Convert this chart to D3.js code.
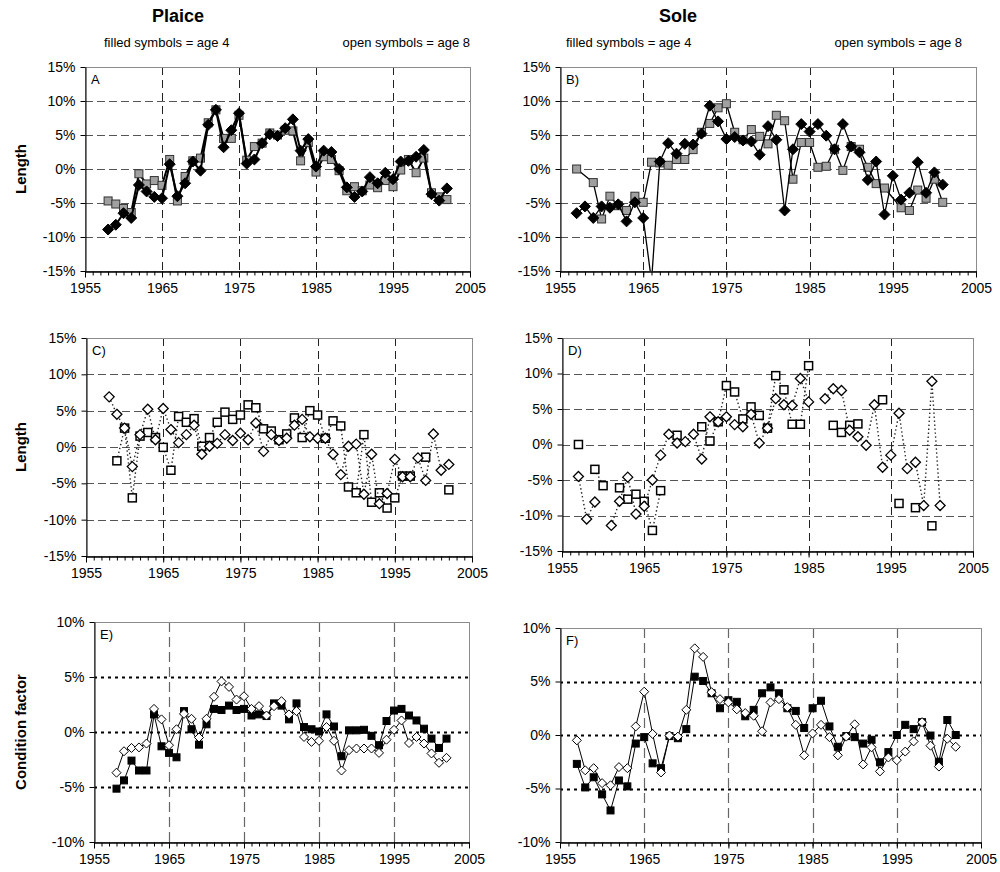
<!DOCTYPE html>
<html>
<head>
<meta charset="utf-8">
<script src="https://cdn.jsdelivr.net/npm/d3@7"></script>
<style>
  body { margin: 0; background: #fff; }
  svg { display: block; font-family: "Liberation Sans", Arial, sans-serif; }
</style>
</head>
<body>
<svg id="chart" width="1000" height="872"></svg>
<script>
// ---- Years (categories) ----
const plaiceYears = [1958,1959,1960,1961,1962,1963,1964,1965,1966,1967,1968,1969,1970,1971,1972,1973,1974,1975,1976,1977,1978,1979,1980,1981,1982,1983,1984,1985,1986,1987,1988,1989,1990,1991,1992,1993,1994,1995,1996,1997,1998,1999,2000,2001,2002];
const soleYears = [1957,1958,1959,1960,1961,1962,1963,1964,1965,1966,1967,1968,1969,1970,1971,1972,1973,1974,1975,1976,1977,1978,1979,1980,1981,1982,1983,1984,1985,1986,1987,1988,1989,1990,1991,1992,1993,1994,1995,1996,1997,1998,1999,2000,2001];
const soleCondYears = [1957,1958,1959,1960,1961,1962,1963,1964,1965,1966,1967,1968,1969,1970,1971,1972,1973,1974,1975,1976,1977,1978,1979,1980,1981,1982,1983,1984,1985,1986,1987,1988,1989,1990,1991,1992,1993,1994,1995,1996,1997,1998,1999,2000,2001,2002];

// ---- Axis ticks ----
const lengthTicks = [-15,-10,-5,0,5,10,15];
const conditionTicks = [-10,-5,0,5,10];
const yearLabels = [1955,1965,1975,1985,1995,2005];
const decadeLines = [1965,1975,1985,1995];

// ---- A: plaice length (% deviation) ----
const plaiceLenAge4 = [-8.9,-8.2,-6.5,-7.2,-2.35,-3.3,-4.1,-4.3,0.7,-4.0,-2.1,1.1,-0.25,6.5,8.7,3.2,5.7,8.2,0.8,1.4,3.8,5.1,4.85,6.0,7.3,2.7,4.4,0.35,2.7,2.5,0.0,-2.7,-4.1,-3.3,-1.2,-2.1,-0.55,-1.5,1.1,1.2,1.8,2.8,-3.7,-4.65,-2.85];
const plaiceLenAge8 = [-4.7,-5.15,-5.8,-6.4,-0.7,-2.2,-1.7,-2.4,1.4,-4.7,-1.1,1.2,1.6,6.8,8.7,4.5,4.5,7.9,1.3,3.3,3.8,5.3,5.0,5.7,5.6,1.2,3.9,-0.45,1.8,1.4,-0.25,-3.2,-2.6,-3.2,-2.35,-2.75,-1.7,-2.6,-0.15,1.4,-0.55,1.6,-3.5,-4.1,-4.5];

// ---- B: sole length ----
const soleLenAge4 = [-6.5,-5.5,-7.2,-5.5,-5.7,-5.2,-7.7,-4.9,-7.2,-16.5,1.1,3.8,2.25,3.7,3.6,5.2,9.3,7.0,4.4,4.7,4.2,4.05,2.1,6.3,4.3,-6.1,2.9,6.6,5.5,6.6,4.9,2.9,6.6,3.3,2.45,-1.6,1.1,-6.7,-1.0,-4.5,-3.5,1.0,-3.5,-0.5,-2.3];
const soleLenAge8 = [0.0,null,-2.0,-7.35,-4.0,-5.4,-6.1,-4.0,-4.9,1.0,0.9,0.55,1.4,1.4,2.85,5.4,6.7,9.0,9.6,5.4,4.3,5.8,4.8,3.7,7.9,7.1,-1.5,3.9,3.9,0.25,0.4,2.9,-0.2,3.3,2.9,0.25,-2.15,-2.8,null,-5.7,-6.1,-3.1,-4.3,-1.5,-4.9];

// ---- C: plaice length, second set ----
const plaiceLen2Age4 = [6.9,4.5,2.6,-2.7,1.7,5.2,1.0,5.3,2.4,0.6,1.7,3.0,-1.0,0.1,0.5,1.7,0.9,1.9,1.0,3.3,-0.6,1.7,0.9,1.2,3.0,3.8,1.4,1.2,1.2,-1.0,-3.8,0.1,0.4,-6.5,-1.0,-7.8,-6.4,-1.7,-4.1,-4.1,-1.5,-4.6,1.8,-3.2,-2.4];
const plaiceLen2Age8 = [null,-1.9,2.6,-7.0,1.5,2.0,1.3,-0.05,-3.2,4.2,3.4,3.9,0.1,1.3,3.4,4.8,3.8,4.4,5.8,5.4,2.5,2.2,1.0,1.8,4.0,1.3,5.0,4.4,1.2,3.6,2.9,-5.5,-6.3,1.7,-7.6,-6.3,-8.4,-7.0,-4.0,-4.0,null,-1.4,null,null,-5.9];

// ---- D: sole length, second set ----
const soleLen2Age4 = [-4.5,-10.5,-8.1,null,-11.4,-8.0,-4.6,-9.8,-8.7,-5.0,-1.5,1.45,0.2,0.4,1.45,-2.05,3.9,3.2,3.9,2.8,2.5,4.25,0.2,2.3,6.45,5.6,5.5,9.3,6.0,null,6.45,7.85,7.6,2.0,1.1,-0.1,5.6,-3.2,-1.5,4.4,-3.4,-2.5,-8.6,8.9,-8.6];
const soleLen2Age8 = [0.0,null,-3.5,-5.8,null,-6.1,-7.7,-7.0,-8.0,-12.1,-6.5,null,1.3,null,null,2.5,0.5,3.2,8.3,7.4,3.6,5.3,4.1,2.3,9.7,7.7,2.85,2.85,11.1,null,null,2.7,1.7,2.7,2.9,null,null,6.3,null,-8.3,null,-8.9,null,-11.45,null];

// ---- E: plaice condition factor ----
const plaiceCondAge4 = [-5.15,-4.4,-2.6,-3.5,-3.5,1.6,-1.3,-1.9,-2.3,1.9,0.25,-1.15,0.7,2.1,2.0,2.4,2.0,2.1,1.5,1.6,1.45,2.6,2.4,1.15,2.6,0.45,0.25,0.05,1.6,0.5,-2.2,0.15,0.15,0.2,-0.35,-1.2,1.0,1.95,2.1,1.5,1.05,0.3,-0.6,-1.45,-0.6];
const plaiceCondAge8 = [-3.7,-1.75,-1.45,-1.4,-1.05,2.1,1.15,-1.2,0.25,1.65,1.2,-0.5,1.2,3.2,4.6,4.1,2.95,3.25,2.1,2.35,1.5,2.35,2.8,1.6,1.9,-0.45,-0.9,-0.8,0.45,-0.8,-3.5,-1.65,-1.5,-1.5,-1.5,-1.9,-0.7,0.2,1.05,-1.0,-0.45,-1.05,-1.95,-2.8,-2.35];

// ---- F: sole condition factor ----
const soleCondAge4 = [-2.7,-4.9,-3.95,-5.55,-7.05,-4.25,-4.8,-0.8,-0.2,-2.65,-3.1,-0.1,-0.3,0.55,5.45,5.05,3.9,2.5,3.25,3.1,1.75,2.35,3.9,4.45,3.9,2.5,2.25,0.65,2.5,3.2,0.8,-1.1,-0.1,-0.2,-0.8,-0.45,-2.55,-1.6,0.0,0.95,0.55,1.2,-0.05,-2.5,1.4,0.0];
const soleCondAge8 = [-0.5,-3.3,-3.1,-4.5,-4.7,-3.0,-3.1,0.8,4.05,0.1,-3.5,-0.05,-0.15,2.35,8.1,7.3,4.0,3.35,3.05,2.4,2.05,1.8,0.35,3.05,3.35,2.6,0.95,-1.9,0.15,0.95,-0.2,-1.9,-0.15,1.0,-2.75,-1.15,-3.4,-2.1,-2.35,-1.55,-0.6,1.2,-1.0,-2.95,-0.35,-1.1];

const svg = d3.select("#chart");
let clipCount = 0;

const diamondPath = r => `M0,${-r}L${r},0L0,${r}L${-r},0Z`;

function drawSeries(g, x, y, years, values, st) {
  const pts = years.map((yr, i) => ({ yr, v: values[i] })).filter(d => st.gaps || d.v !== null);
  const line = d3.line().defined(d => d.v !== null).x(d => x(d.yr)).y(d => y(d.v));
  g.append("path")
    .attr("d", line(pts))
    .attr("fill", "none")
    .attr("stroke", st.lineColor)
    .attr("stroke-width", st.lineWidth)
    .attr("stroke-dasharray", st.dash || null)
    .attr("stroke-linejoin", "round");
  const shown = pts.filter(d => d.v !== null);
  if (st.marker === "square") {
    g.selectAll(null).data(shown).join("rect")
      .attr("x", d => x(d.yr) - st.size / 2)
      .attr("y", d => y(d.v) - st.size / 2)
      .attr("width", st.size).attr("height", st.size)
      .attr("fill", st.fill).attr("stroke", st.stroke).attr("stroke-width", st.strokeWidth);
  } else {
    g.selectAll(null).data(shown).join("path")
      .attr("transform", d => `translate(${x(d.yr)},${y(d.v)})`)
      .attr("d", diamondPath(st.size / 2))
      .attr("fill", st.fill).attr("stroke", st.stroke).attr("stroke-width", st.strokeWidth);
  }
}

function drawPanel(p) {
  const x = d3.scaleLinear().domain([1955, 2005]).range([p.left, p.right]);
  const y = d3.scaleLinear().domain([p.ticks[0], p.ticks[p.ticks.length - 1]]).range([p.bottom, p.top]);
  const g = svg.append("g");
  const id = "plotclip" + (clipCount++);
  g.append("clipPath").attr("id", id).append("rect")
    .attr("x", p.left).attr("y", p.top)
    .attr("width", p.right - p.left).attr("height", p.bottom - p.top);

  // horizontal grid
  g.selectAll(null).data(p.ticks.slice(1, -1)).join("line")
    .attr("x1", p.left).attr("x2", p.right)
    .attr("y1", d => Math.round(y(d)) + 0.5).attr("y2", d => Math.round(y(d)) + 0.5)
    .attr("stroke", p.hGrid.color).attr("stroke-width", p.hGrid.width)
    .attr("stroke-dasharray", p.hGrid.dash);

  // vertical grid
  g.selectAll(null).data(decadeLines).join("line")
    .attr("x1", d => Math.round(x(d)) + 0.5).attr("x2", d => Math.round(x(d)) + 0.5)
    .attr("y1", p.top).attr("y2", p.bottom)
    .attr("stroke", p.vGrid.color).attr("stroke-width", p.vGrid.width)
    .attr("stroke-dasharray", p.vGrid.dash);

  // plot-area frame
  g.append("rect")
    .attr("x", p.left + 0.5).attr("y", p.top + 0.5)
    .attr("width", p.right - p.left).attr("height", p.bottom - p.top)
    .attr("fill", "none").attr("stroke", "#8c8c8c").attr("stroke-width", 1);

  // series
  const sg = g.append("g").attr("clip-path", `url(#${id})`);
  p.series.forEach(s => drawSeries(sg, x, y, p.years, s.values, s.style));

  // y axis
  const ya = g.append("g").attr("transform", `translate(${p.left + 0.5},0)`)
    .call(d3.axisLeft(y).tickValues(p.ticks).tickSize(5).tickSizeOuter(0).tickPadding(5).tickFormat(d => d + "%"));
  // x axis: minor ticks every year, major ticks with labels every decade
  const xMinor = g.append("g").attr("transform", `translate(0,${p.bottom + 0.5})`)
    .call(d3.axisBottom(x).tickValues(d3.range(1955, 2006)).tickSize(4).tickSizeOuter(0).tickFormat(""));
  const xMajor = g.append("g").attr("transform", `translate(0,${p.bottom + 0.5})`)
    .call(d3.axisBottom(x).tickValues(yearLabels).tickSize(6).tickSizeOuter(0).tickPadding(6).tickFormat(d3.format("d")));
  [ya, xMinor, xMajor].forEach(a => {
    a.selectAll("path.domain").attr("stroke", "#000");
    a.selectAll(".tick line").attr("stroke", "#000");
    a.selectAll("text").attr("font-size", "14px").attr("fill", "#000")
      .attr("font-family", '"Liberation Sans", Arial, sans-serif');
  });

  // panel letter
  g.append("text").attr("x", p.left + 6).attr("y", p.top + 17)
    .attr("font-size", "13px").text(p.letter);
}

const dashGrid = { color: "#555", width: 1, dash: "8,4" };
const dashV = { color: "#222", width: 1, dash: "8,5" };
const dotGrid = { color: "#000", width: 2, dash: "3,4" };
const dashVcond = { color: "#666", width: 1.2, dash: "10,5" };

const filledDiamondA = { marker: "diamond", size: 11, fill: "#000", stroke: "#000", strokeWidth: 1, lineColor: "#000", lineWidth: 2 };
const greySquareA = { marker: "square", size: 8, fill: "#a0a0a0", stroke: "#333", strokeWidth: 1, lineColor: "#000", lineWidth: 2 };
const filledDiamondB = { marker: "diamond", size: 11, fill: "#000", stroke: "#000", strokeWidth: 1, lineColor: "#000", lineWidth: 1.3 };
const greySquareB = { marker: "square", size: 8, fill: "#a0a0a0", stroke: "#333", strokeWidth: 1, lineColor: "#000", lineWidth: 1.3 };
const openDiamondDot = { marker: "diamond", size: 10, fill: "#fff", stroke: "#000", strokeWidth: 1.3, lineColor: "#222", lineWidth: 1.4, dash: "1.4,2.6", gaps: true };
const openSquareDot = { marker: "square", size: 8, fill: "#fff", stroke: "#000", strokeWidth: 1.5, lineColor: "#222", lineWidth: 1.4, dash: "1.4,2.6", gaps: true };
const blackSquareC = { marker: "square", size: 7, fill: "#000", stroke: "#000", strokeWidth: 1, lineColor: "#000", lineWidth: 1 };
const openDiamondC = { marker: "diamond", size: 9, fill: "#fff", stroke: "#000", strokeWidth: 1, lineColor: "#000", lineWidth: 1 };

const panels = [
  { letter: "A", left: 85, right: 470, top: 67, bottom: 271, ticks: lengthTicks, years: plaiceYears,
    hGrid: dashGrid, vGrid: dashV,
    series: [{ values: plaiceLenAge8, style: greySquareA }, { values: plaiceLenAge4, style: filledDiamondA }] },
  { letter: "B)", left: 560, right: 976, top: 67, bottom: 271, ticks: lengthTicks, years: soleYears,
    hGrid: dashGrid, vGrid: dashV,
    series: [{ values: soleLenAge8, style: greySquareB }, { values: soleLenAge4, style: filledDiamondB }] },
  { letter: "C)", left: 86, right: 472, top: 338, bottom: 556, ticks: lengthTicks, years: plaiceYears,
    hGrid: dashGrid, vGrid: dashV,
    series: [{ values: plaiceLen2Age8, style: openSquareDot }, { values: plaiceLen2Age4, style: openDiamondDot }] },
  { letter: "D)", left: 562, right: 973, top: 338, bottom: 551, ticks: lengthTicks, years: soleYears,
    hGrid: dashGrid, vGrid: dashV,
    series: [{ values: soleLen2Age8, style: openSquareDot }, { values: soleLen2Age4, style: openDiamondDot }] },
  { letter: "E)", left: 94, right: 469, top: 622, bottom: 842, ticks: conditionTicks, years: plaiceYears,
    hGrid: dotGrid, vGrid: dashVcond,
    series: [{ values: plaiceCondAge4, style: blackSquareC }, { values: plaiceCondAge8, style: openDiamondC }] },
  { letter: "F)", left: 560, right: 981, top: 628, bottom: 842, ticks: conditionTicks, years: soleCondYears,
    hGrid: dotGrid, vGrid: dashVcond,
    series: [{ values: soleCondAge4, style: blackSquareC }, { values: soleCondAge8, style: openDiamondC }] }
];

panels.forEach(drawPanel);

// titles and notes
const head = svg.append("g");
head.append("text").attr("x", 178).attr("y", 22).attr("text-anchor", "middle")
  .attr("font-size", "18px").attr("font-weight", "bold").text("Plaice");
head.append("text").attr("x", 678).attr("y", 22).attr("text-anchor", "middle")
  .attr("font-size", "18px").attr("font-weight", "bold").text("Sole");
head.append("text").attr("x", 104).attr("y", 47).attr("font-size", "13px").text("filled symbols = age 4");
head.append("text").attr("x", 470).attr("y", 47).attr("text-anchor", "end").attr("font-size", "13px").text("open symbols = age 8");
head.append("text").attr("x", 566).attr("y", 47).attr("font-size", "13px").text("filled symbols = age 4");
head.append("text").attr("x", 962).attr("y", 47).attr("text-anchor", "end").attr("font-size", "13px").text("open symbols = age 8");

// y-axis titles
[["Length", 169], ["Length", 447], ["Condition factor", 732]].forEach(([t, cy]) => {
  svg.append("text").attr("transform", `translate(26,${cy}) rotate(-90)`)
    .attr("text-anchor", "middle").attr("font-size", "15px").attr("font-weight", "bold").text(t);
});
</script>
</body>
</html>
